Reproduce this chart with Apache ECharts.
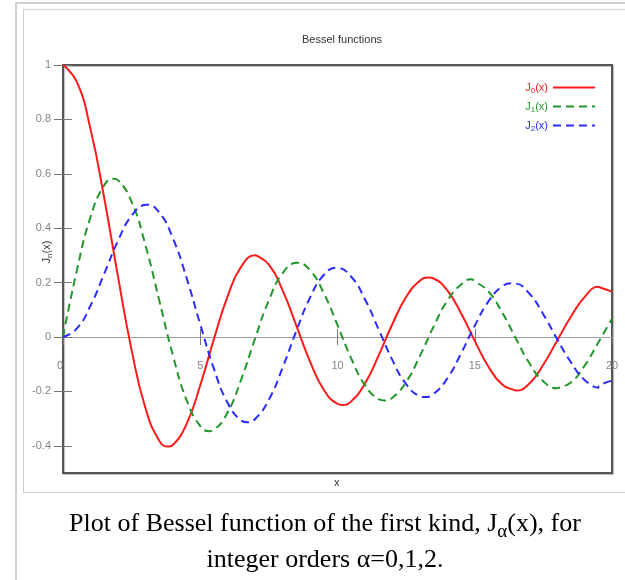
<!DOCTYPE html>
<html lang="en">
  <head>
    <meta charset="UTF-8">
    <title>Bessel functions</title>
    <style>
      body { margin: 0; background: #fff; }
      #wrap { position: relative; width: 625px; height: 580px; overflow: hidden; }
      #main { position: absolute; left: 0; top: 0; width: 625px; height: 580px; }
      .outer { position: absolute; left: 15px; top: 2px; width: 700px; height: 700px; border-left: 2px solid #d0d0d0; border-top: 2px solid #d0d0d0; }
      .inner { position: absolute; left: 23px; top: 9px; width: 700px; height: 482px; border: 1px solid #cfcfcf; }
      #caption { position: absolute; left: 20px; width: 610px; top: 505px; text-align: center;
        font-family: "Liberation Serif", serif; font-size: 26px; line-height: 36px; color: #000; }
      #caption sub { font-size: 19px; vertical-align: -6px; line-height: 0; }
    </style>
  </head>
  <body>
    <div id="wrap">
      <div class="outer"></div>
      <div class="inner"></div>
      <div id="main"></div>
      <div id="caption">Plot of Bessel function of the first kind, J<sub>&alpha;</sub>(x), for<br>integer orders &alpha;=0,1,2.</div>
    </div>

    <script src="https://cdn.jsdelivr.net/npm/echarts@6/dist/echarts.min.js"></script>
    <script type="text/javascript">
      // x positions and the curve values
      var xs = [0, 0.5, 1, 1.5, 2, 2.5, 3, 3.5, 4, 4.5, 5, 5.5, 6, 6.5, 7, 7.5, 8, 8.5, 9, 9.5, 10,
        10.5, 11, 11.5, 12, 12.5, 13, 13.5, 14, 14.5, 15, 15.5, 16, 16.5, 17, 17.5, 18, 18.5, 19, 19.5, 20];
      var j0 = [1, 0.9385, 0.7652, 0.5118, 0.2239, -0.0484, -0.2601, -0.3801, -0.3971, -0.3205, -0.1776,
        -0.0068, 0.1506, 0.2601, 0.3001, 0.2663, 0.1717, 0.0419, -0.0903, -0.1939, -0.2459,
        -0.2366, -0.1712, -0.0677, 0.0477, 0.1469, 0.2069, 0.2150, 0.1711, 0.0875, -0.0142,
        -0.1092, -0.1749, -0.1971, -0.1699, -0.1014, -0.0134, 0.0743, 0.1466, 0.1844, 0.1670];
      var j1 = [0, 0.2423, 0.4401, 0.5579, 0.5767, 0.4971, 0.3391, 0.1374, -0.0660, -0.2311, -0.3276,
        -0.3414, -0.2767, -0.1538, -0.0047, 0.1352, 0.2346, 0.2731, 0.2453, 0.1613, 0.0435,
        -0.0789, -0.1768, -0.2284, -0.2234, -0.1655, -0.0703, 0.0380, 0.1334, 0.1934, 0.2051,
        0.1672, 0.0904, -0.0057, -0.0977, -0.1633, -0.1880, -0.1672, -0.1057, -0.0203, 0.0668];
      var j2 = [0, 0.0306, 0.1149, 0.2321, 0.3528, 0.4461, 0.4861, 0.4586, 0.3641, 0.2178, 0.0466,
        -0.1173, -0.2429, -0.3074, -0.3014, -0.2303, -0.1130, 0.0223, 0.1448, 0.2279, 0.2546,
        0.2216, 0.1390, 0.0279, -0.0849, -0.1734, -0.2177, -0.2094, -0.1520, -0.0608, 0.0416,
        0.1308, 0.1862, 0.1964, 0.1584, 0.0828, -0.0075, -0.0924, -0.1578, -0.1865, -0.1603];
      // turning points of each curve (peaks and troughs)
      var j0PeakX = [3.832, 7.016, 10.174, 13.324, 16.471, 19.616];
      var j0PeakY = [-0.4028, 0.3001, -0.2497, 0.2184, -0.1965, 0.1801];
      var j1PeakX = [1.841, 5.331, 8.536, 11.706, 14.864, 18.016];
      var j1PeakY = [0.5819, -0.3461, 0.2733, -0.2333, 0.2124, -0.1880];
      var j2PeakX = [3.054, 6.706, 9.970, 13.170, 16.348, 19.513];
      var j2PeakY = [0.4865, -0.3135, 0.2547, -0.2209, 0.1973, -0.1812];
      var yTicks = [-0.4, -0.2, 0, 0.2, 0.4, 0.6, 0.8, 1];
      var names = ['J0(x)', 'J1(x)', 'J2(x)'];
      var colors = ['#ff1a1a', '#21962a', '#2b2bff'];

      function pairs(ys, px, py) {
        var pts = xs.map(function(x, i) { return [x, ys[i]]; });
        px.forEach(function(x, i) { pts.push([x, py[i]]); });
        return pts.sort(function(a, b) { return a[0] - b[0]; });
      }

      var myChart = echarts.init(document.getElementById('main'));
      var labelFont = { color: '#858585', fontSize: 11, fontFamily: 'Liberation Sans' };
      var subRich = { s: { fontSize: 8, verticalAlign: 'bottom', padding: [6, 0, 0, 0] } };

      // zero line axes: same scale, one ticking each way
      function zeroAxis(pos) {
        return {
          type: 'value', min: 0, max: 20, interval: 5, position: pos,
          axisLine: { onZero: true, onZeroAxisIndex: 0, lineStyle: { color: '#a0a0a0', width: 1 } },
          axisTick: { length: 8, lineStyle: { color: '#777' } },
          axisLabel: { show: false },
          splitLine: { show: false }
        };
      }

      var option = {
        animation: false,
        title: {
          text: 'Bessel functions',
          left: 337, top: 29, textAlign: 'center',
          textStyle: { fontSize: 11, fontWeight: 'normal', color: '#333', fontFamily: 'Liberation Sans' }
        },
        legend: {
          orient: 'vertical', right: 24, top: 77, align: 'right',
          itemWidth: 42, itemHeight: 12, itemGap: 6.5,
          itemStyle: { opacity: 0 },
          formatter: function(n) { return 'J{s|' + n.charAt(1) + '}(x)'; },
          textStyle: { fontSize: 11, fontFamily: 'Liberation Sans', rich: subRich },
          data: names.map(function(n, i) { return { name: n, textStyle: { color: colors[i] } }; })
        },
        grid: {
          left: 63, right: 13, top: 65, bottom: 107,
          show: true, borderColor: '#555', borderWidth: 2,
          shadowColor: 'rgba(0,0,0,0.25)', shadowOffsetX: 1, shadowOffsetY: 1, shadowBlur: 1,
          backgroundColor: '#fff'
        },
        graphic: [{
          type: 'text', left: 334, top: 477,
          style: { text: 'x', fontSize: 11, fill: '#333', fontFamily: 'Liberation Sans' }
        }, {
          type: 'text', x: 47, y: 252, rotation: Math.PI / 2,
          style: { text: 'J{s|n}(x)', fontSize: 11, fill: '#333', fontFamily: 'Liberation Sans',
            align: 'center', verticalAlign: 'middle', rich: subRich }
        }],
        xAxis: [zeroAxis('bottom'), zeroAxis('top'), {
          // tick labels only, lifted up under the zero line
          type: 'value', min: 0, max: 20, interval: 5, position: 'bottom',
          axisLine: { show: false, onZero: false },
          axisTick: { show: false },
          axisLabel: Object.assign({ inside: true, margin: 102, alignMinLabel: 'right' }, labelFont),
          splitLine: { show: false }
        }],
        yAxis: [{
          type: 'value', min: -0.5, max: 1,
          axisLine: { show: true, onZero: false, lineStyle: { color: '#555', width: 2 } },
          axisTick: { length: 9, customValues: yTicks, lineStyle: { color: '#777' } },
          axisLabel: Object.assign({ margin: 12, customValues: yTicks }, labelFont),
          splitLine: { show: false }
        }, {
          type: 'value', min: -0.5, max: 1, position: 'left',
          axisLine: { show: false, onZero: false },
          axisTick: { length: 9, inside: true, customValues: yTicks, lineStyle: { color: '#777' } },
          axisLabel: { show: false },
          splitLine: { show: false }
        }],
        series: [[j0, j0PeakX, j0PeakY], [j1, j1PeakX, j1PeakY], [j2, j2PeakX, j2PeakY]].map(function(s, i) {
          return {
            name: names[i], type: 'line', smooth: true, symbol: 'none',
            data: pairs(s[0], s[1], s[2]),
            lineStyle: { color: colors[i], width: 2, type: i === 0 ? 'solid' : [8, 5] },
            itemStyle: { color: colors[i] }
          };
        })
      };

      myChart.setOption(option);
    </script>
  </body>
</html>
